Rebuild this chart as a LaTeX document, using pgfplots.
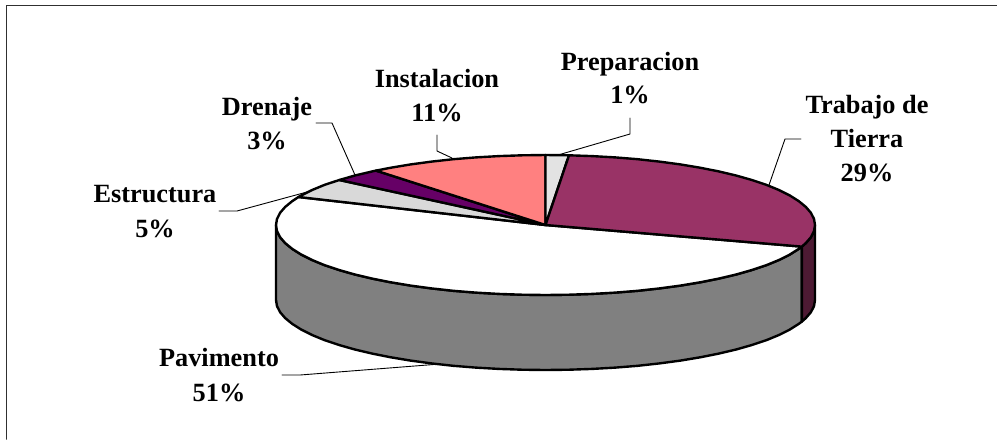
\documentclass[border=0pt]{standalone}
\usepackage{fontspec}
\setmainfont{Liberation Serif}
\usepackage{pgfplots}
\pgfplotsset{compat=1.18}

\definecolor{trabajo}{HTML}{993366}
\definecolor{trabajolado}{HTML}{4D1A33}
\definecolor{pavlado}{HTML}{808080}
\definecolor{estructura}{HTML}{D9D9D9}
\definecolor{drenaje}{HTML}{660066}
\definecolor{instalacion}{HTML}{FF8080}
\definecolor{preparacion}{HTML}{E3E3E3}
\definecolor{guia}{HTML}{303030}

% One centred line of a slice label, placed on its baseline
\newcommand{\etiqueta}[3]{\node[anchor=base,inner sep=0pt,font=\fontsize{26.4}{30}\selectfont\bfseries] at (axis cs:#1,#2) {#3};}

\begin{document}
\begin{tikzpicture}
\begin{axis}[
  scale only axis, width=997bp, height=439bp,
  xmin=0, xmax=997, ymin=0, ymax=439, y dir=reverse,
  hide axis,
  every axis plot/.append style={forget plot, no markers, line join=round, line cap=round},
  sector/.style={draw=black, line width=2.4pt},
  guide/.style={draw=black, line width=0.9pt},
]

% Page area
\path[use as bounding box] (axis cs:0,0) rectangle (axis cs:997,439);

% Outer frame: only the top and left edges show
\addplot[draw=guia, line width=1.8pt] coordinates {(6.5,439) (6.5,5.5) (997,5.5)};

% Side wall of Pavimento
\addplot[sector, fill=pavlado] coordinates {
 (276.0,225) (277.0,231.1) (280.1,237.2) (285.2,243.1) (292.3,248.9) (301.3,254.6)
 (312.1,260.0) (324.7,265.2) (339.1,270.0) (354.9,274.5) (372.3,278.6) (390.9,282.3)
 (410.7,285.6) (431.6,288.4) (453.3,290.8) (475.8,292.6) (498.7,293.9) (522.0,294.7)
 (545.5,295.0) (569.0,294.7) (592.3,293.9) (615.2,292.6) (637.7,290.8) (659.4,288.4)
 (680.3,285.6) (700.1,282.3) (718.7,278.6) (736.1,274.5) (751.9,270.0) (766.3,265.2)
 (778.9,260.0) (789.7,254.6) (798.7,248.9) (801.8,246.6)
 (801.8,321.6) (798.7,323.9) (789.7,329.6) (778.9,335.0) (766.3,340.2) (751.9,345.0)
 (736.1,349.5) (718.7,353.6) (700.1,357.3) (680.3,360.6) (659.4,363.4) (637.7,365.8)
 (615.2,367.6) (592.3,368.9) (569.0,369.7) (545.5,370.0) (522.0,369.7) (498.7,368.9)
 (475.8,367.6) (453.3,365.8) (431.6,363.4) (410.7,360.6) (390.9,357.3) (372.3,353.6)
 (354.9,349.5) (339.1,345.0) (324.7,340.2) (312.1,335.0) (301.3,329.6) (292.3,323.9)
 (285.2,318.1) (280.1,312.2) (277.0,306.1) (276.0,300.0)
} --cycle;

% Side wall of Trabajo de Tierra
\addplot[sector, fill=trabajolado] coordinates {
 (815.0,225) (814.0,231.1) (810.9,237.2) (805.8,243.1) (801.8,246.6)
 (801.8,321.6) (805.8,318.1) (810.9,312.2) (814.0,306.1) (815.0,300.0)
} --cycle;

% Top face: Pavimento, 51%
\addplot[sector, fill=white] coordinates {
 (545.5,225) (801.8,246.6) (798.7,248.9) (789.7,254.6) (778.9,260.0) (766.3,265.2)
 (751.9,270.0) (736.1,274.5) (718.7,278.6) (700.1,282.3) (680.3,285.6) (659.4,288.4)
 (637.7,290.8) (615.2,292.6) (592.3,293.9) (569.0,294.7) (545.5,295.0) (522.0,294.7)
 (498.7,293.9) (475.8,292.6) (453.3,290.8) (431.6,288.4) (410.7,285.6) (390.9,282.3)
 (372.3,278.6) (354.9,274.5) (339.1,270.0) (324.7,265.2) (312.1,260.0) (301.3,254.6)
 (292.3,248.9) (285.2,243.1) (280.1,237.2) (277.0,231.1) (276.0,225.0) (277.0,218.9)
 (280.1,212.8) (285.2,206.9) (292.3,201.1) (298.5,197.0)
} --cycle;

% Top face: Estructura, 5%
\addplot[sector, fill=estructura] coordinates {
 (545.5,225) (298.5,197.0) (301.3,195.4) (312.1,190.0) (324.7,184.8) (339.3,180.0)
} --cycle;

% Top face: Drenaje, 3%
\addplot[sector, fill=drenaje] coordinates {
 (545.5,225) (339.3,180.0) (354.9,175.5) (372.3,171.4) (376.0,170.6)
} --cycle;

% Top face: Instalacion, 11%
\addplot[sector, fill=instalacion] coordinates {
 (545.5,225) (376.0,170.6) (390.9,167.7) (410.7,164.4) (431.6,161.6) (453.3,159.2)
 (475.8,157.4) (498.7,156.1) (522.0,155.3) (545.5,155.0)
} --cycle;

% Top face: Preparacion, 1%
\addplot[sector, fill=preparacion] coordinates {
 (545.5,225) (545.5,155.0) (569.0,155.3)
} --cycle;

% Top face: Trabajo de Tierra, 29%
\addplot[sector, fill=trabajo] coordinates {
 (545.5,225) (569.0,155.3) (592.3,156.1) (615.2,157.4) (637.7,159.2) (659.4,161.6)
 (680.3,164.4) (700.1,167.7) (718.7,171.4) (736.1,175.5) (751.9,180.0) (766.3,184.8)
 (778.9,190.0) (789.7,195.4) (798.7,201.1) (805.8,206.9) (810.9,212.8) (814.0,218.9)
 (815.0,225.0) (814.0,231.1) (810.9,237.2) (805.8,243.1) (801.8,246.6)
} --cycle;

% Leader lines from labels to slices
\addplot[guide] coordinates {(630,118) (630,134) (558,155)};
\addplot[guide] coordinates {(801,139) (785,139) (769,185)};
\addplot[guide] coordinates {(437,135) (437,151) (452,158)};
\addplot[guide] coordinates {(316,123) (332,123) (355,175)};
\addplot[guide] coordinates {(219,211) (237,211) (307,192)};
\addplot[guide] coordinates {(282,375) (300,375) (440,364)};

% Slice labels
\etiqueta{630}{70}{Preparacion}
\etiqueta{630}{103}{1\%}
\etiqueta{437}{87}{Instalacion}
\etiqueta{437}{121}{11\%}
\etiqueta{267}{115}{Drenaje}
\etiqueta{267}{149}{3\%}
\etiqueta{155}{202}{Estructura}
\etiqueta{155}{237}{5\%}
\etiqueta{867}{113}{Trabajo de}
\etiqueta{867}{147}{Tierra}
\etiqueta{867}{181}{29\%}
\etiqueta{219}{366}{Pavimento}
\etiqueta{219}{401}{51\%}
\end{axis}
\end{tikzpicture}
\end{document}
